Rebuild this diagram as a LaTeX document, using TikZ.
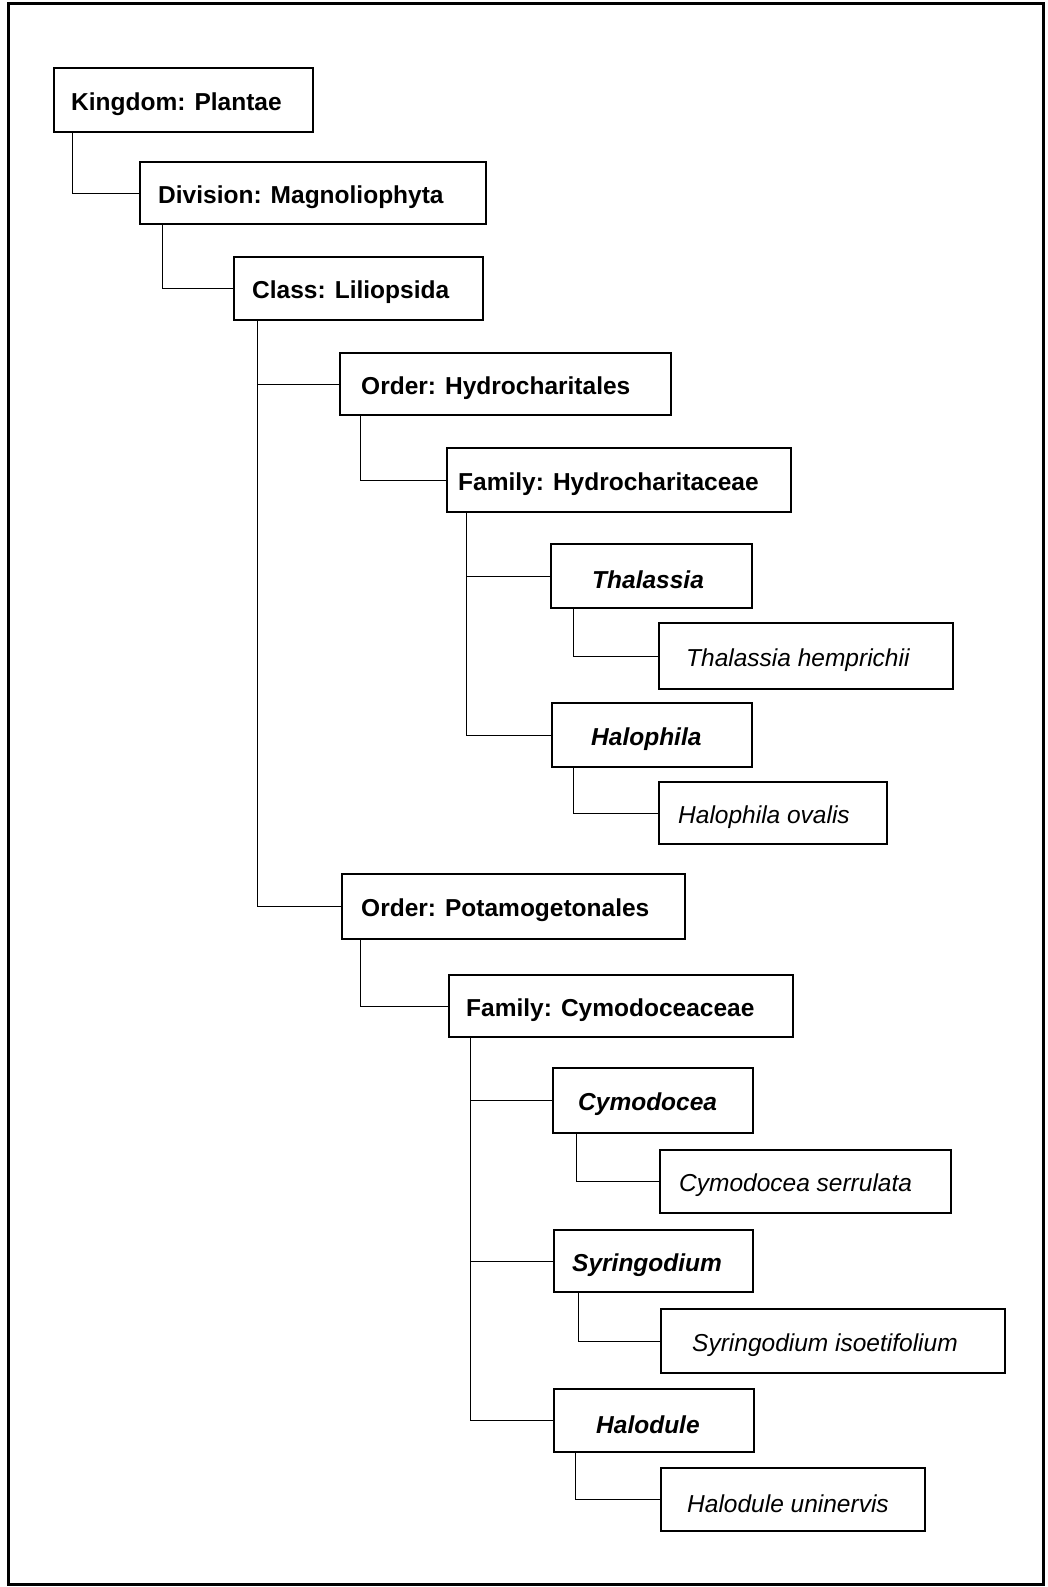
\documentclass[tikz,border=0pt]{standalone}
\usepackage{fontspec}
\setmainfont{Liberation Sans}
\begin{document}
\begin{tikzpicture}[x=1pt,y=-1pt,
  boxst/.style={draw=black, line width=2pt, fill=white, inner sep=0pt, rectangle},
  lbl/.style={inner sep=0pt, anchor=west, font=\fontsize{24.5}{29}\selectfont},
  conn/.style={draw=black, line width=1pt}]
\useasboundingbox (0,0) rectangle (1047,1587);
\draw[line width=3pt] (8,4) rectangle (1043,1584);
% #1 name, #2 x1, #3 y1, #4 x2, #5 y2, #6 text-left, #7 text
\newcommand\mybox[7]{%
  \node[boxst, anchor=north west, minimum width=#4-#2, minimum height=#5-#3] (#1) at (#2,#3) {};
  \node[lbl] (#1t) at (#6,{(#3+#5)/2+5}) {#7};}
\mybox{kingdom}{53}{67}{312}{131}{71}{\bfseries Kingdom: Plantae}
\mybox{division}{139}{161}{485}{223}{158}{\bfseries Division: Magnoliophyta}
\mybox{class}{233}{256}{482}{319}{252}{\bfseries Class: Liliopsida}
\mybox{ordh}{339}{352}{670}{414}{361}{\bfseries Order: Hydrocharitales}
\mybox{famh}{446}{447}{790}{511}{458}{\bfseries Family: Hydrocharitaceae}
\mybox{thal}{550}{543}{751}{607}{592}{\bfseries\itshape Thalassia}
\mybox{thalh}{658}{622}{952}{688}{686}{\itshape Thalassia hemprichii}
\mybox{halo}{551}{702}{751}{766}{591}{\bfseries\itshape Halophila}
\mybox{haloo}{658}{781}{886}{843}{678}{\itshape Halophila ovalis}
\mybox{ordp}{341}{873}{684}{938}{361}{\bfseries Order: Potamogetonales}
\mybox{famc}{448}{974}{792}{1036}{466}{\bfseries Family: Cymodoceaceae}
\mybox{cymo}{552}{1067}{752}{1132}{578}{\bfseries\itshape Cymodocea}
\mybox{cymos}{659}{1149}{950}{1212}{679}{\itshape Cymodocea serrulata}
\mybox{syri}{553}{1229}{752}{1291}{572}{\bfseries\itshape Syringodium}
\mybox{syrii}{660}{1308}{1004}{1372}{692}{\itshape Syringodium isoetifolium}
\mybox{hdul}{553}{1388}{753}{1451}{596}{\bfseries\itshape Halodule}
\mybox{hdulu}{660}{1467}{924}{1530}{687}{\itshape Halodule uninervis}
% connectors
\draw[conn] ([xshift=19]kingdom.south west) |- (division.west);
\draw[conn] ([xshift=23]division.south west) |- (class.west);
\draw[conn] ([xshift=24]class.south west) |- (ordh.west);
\draw[conn] ([xshift=24]class.south west) |- (ordp.west);
\draw[conn] ([xshift=21]ordh.south west) |- (famh.west);
\draw[conn] ([xshift=20]famh.south west) |- (thal.west);
\draw[conn] ([xshift=20]famh.south west) |- (halo.west);
\draw[conn] ([xshift=23]thal.south west) |- (thalh.west);
\draw[conn] ([xshift=22]halo.south west) |- (haloo.west);
\draw[conn] ([xshift=19]ordp.south west) |- (famc.west);
\draw[conn] ([xshift=22]famc.south west) |- (cymo.west);
\draw[conn] ([xshift=22]famc.south west) |- (syri.west);
\draw[conn] ([xshift=22]famc.south west) |- (hdul.west);
\draw[conn] ([xshift=24]cymo.south west) |- (cymos.west);
\draw[conn] ([xshift=25]syri.south west) |- (syrii.west);
\draw[conn] ([xshift=22]hdul.south west) |- (hdulu.west);
\end{tikzpicture}
\end{document}
